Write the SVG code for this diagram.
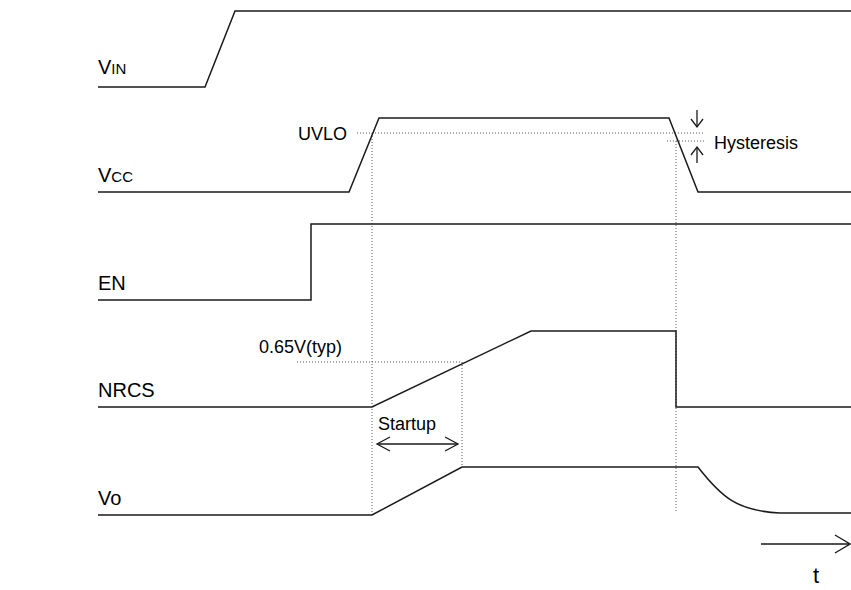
<svg xmlns="http://www.w3.org/2000/svg" width="851" height="590" viewBox="0 0 851 590">
<defs>
<style>
.sig{fill:none;stroke:#1a1a1a;stroke-width:1.5;stroke-linejoin:miter}
.dot{fill:none;stroke:#555;stroke-width:1;stroke-dasharray:1,2}
.arr{fill:none;stroke:#1a1a1a;stroke-width:1.3}
.lbl{font-family:"Liberation Sans",Arial,sans-serif;font-size:20px;fill:#000}
.sub{font-size:15px}
.note{font-family:"Liberation Sans",Arial,sans-serif;font-size:18px;fill:#000}
</style>
</defs>
<rect width="851" height="590" fill="#fff"/>
<g id="labels">
<text class="lbl" x="98" y="74">V<tspan class="sub">IN</tspan></text>
<text class="lbl" x="98" y="182">V<tspan class="sub">CC</tspan></text>
<text class="lbl" x="98" y="290">EN</text>
<text class="lbl" x="98" y="397">NRCS</text>
<text class="lbl" x="98" y="505">Vo</text>
</g>
<g id="guides">
<line class="dot" x1="357" y1="133" x2="705" y2="133"/>
<line class="dot" x1="667" y1="141" x2="705" y2="141"/>
<line class="dot" x1="372" y1="133" x2="372" y2="515"/>
<line class="dot" x1="676" y1="141" x2="676" y2="513"/>
<line class="dot" x1="297" y1="362" x2="462" y2="362"/>
<line class="dot" x1="462" y1="362" x2="462" y2="466"/>
</g>
<g id="VIN"><polyline class="sig" points="98,87 205,87 235,11 851,11"/></g>
<g id="VCC"><polyline class="sig" points="98,192 349,192 379,118 669,118 698,192 851,192"/></g>
<g id="EN"><polyline class="sig" points="98,300 311,300 311,224 851,224"/></g>
<g id="NRCS"><polyline class="sig" points="98,407 372,407 531,331 676,331 676,407 851,407"/></g>
<g id="Vo"><path class="sig" d="M98,515 H372 L462,467 H698 C722,498 738,511 780,513 H851"/></g>
<g id="connectors">
<line class="arr" x1="697" y1="110" x2="697" y2="127"/>
<polyline class="arr" points="691,119 697,127 703,119"/>
<line class="arr" x1="697" y1="147" x2="697" y2="163"/>
<polyline class="arr" points="691,155 697,147 703,155"/>
<line class="arr" x1="377" y1="444" x2="458" y2="444"/>
<polyline class="arr" points="390,437 377,444 390,451"/>
<polyline class="arr" points="445,437 458,444 445,451"/>
<line class="arr" x1="761" y1="544" x2="850" y2="544"/>
<polyline class="arr" points="835,535 850,544 835,553"/>
</g>
<g id="notes">
<text class="note" x="347" y="140" text-anchor="end">UVLO</text>
<text class="note" x="714" y="149">Hysteresis</text>
<text class="note" x="259" y="353">0.65V(typ)</text>
<text class="note" x="378" y="430">Startup</text>
<text class="lbl" x="813" y="583" style="font-size:22px">t</text>
</g>
</svg>
